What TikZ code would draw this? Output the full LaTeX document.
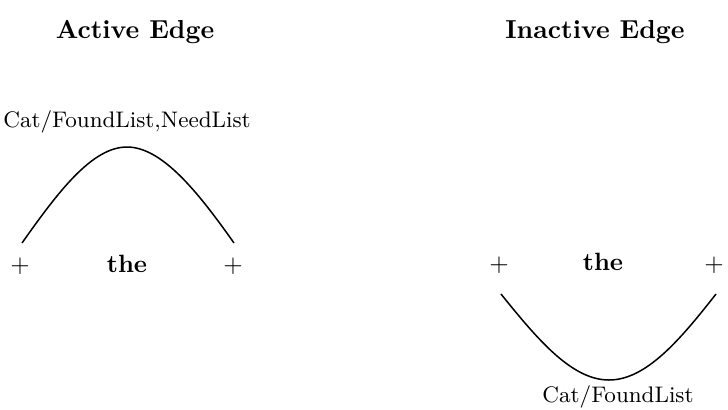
\documentclass[tikz,border=0pt]{standalone}
\usepackage{tikz}
\usetikzlibrary{positioning}

\begin{document}
\begin{tikzpicture}[
    x=0.4pt, y=-0.4pt,
    title_node/.style={anchor=base, font=\fontsize{10.4}{12}\selectfont\bfseries},
    word_node/.style={anchor=base, font=\fontsize{10}{12}\selectfont\bfseries},
    plus_node/.style={inner sep=0pt, font=\fontsize{10}{12}\selectfont},
    cat_node/.style={anchor=base, inner sep=0pt, font=\fontsize{9}{11}\selectfont},
    edge_arc/.style={semithick, draw=black}
]
\useasboundingbox (0,0) rectangle (728,409);

% Active
\node[title_node] (activetitle) at (135,38) {Active Edge};
\node[plus_node] (aleft) at (20,266) {$+$};
\node[word_node] (athe) at (127,272) {the};
\node[plus_node] (aright) at (233,266) {$+$};
\node[cat_node] (acat) at (127,127) {Cat/FoundList,NeedList};
\coordinate (astart) at (22,243);
\coordinate (atop) at (127,147);
\coordinate (aend) at (234,243);

% Inactive
\node[title_node] (inactivetitle) at (595,38) {Inactive Edge};
\node[plus_node] (ileft) at (499,265) {$+$};
\node[word_node] (ithe) at (603,270) {the};
\node[plus_node] (iright) at (714,265) {$+$};
\node[cat_node] (icat) at (618,402) {Cat/FoundList};
\coordinate (istart) at (501,294);
\coordinate (ibottom) at (609,380);
\coordinate (iend) at (716,294);

% Arcs
\draw[edge_arc] (astart) .. controls (58,192) and (92,147) .. (atop)
    .. controls (162,147) and (198,192) .. (aend);
\draw[edge_arc] (istart) .. controls (538,340) and (572,380) .. (ibottom)
    .. controls (646,380) and (680,340) .. (iend);

\end{tikzpicture}
\end{document}
